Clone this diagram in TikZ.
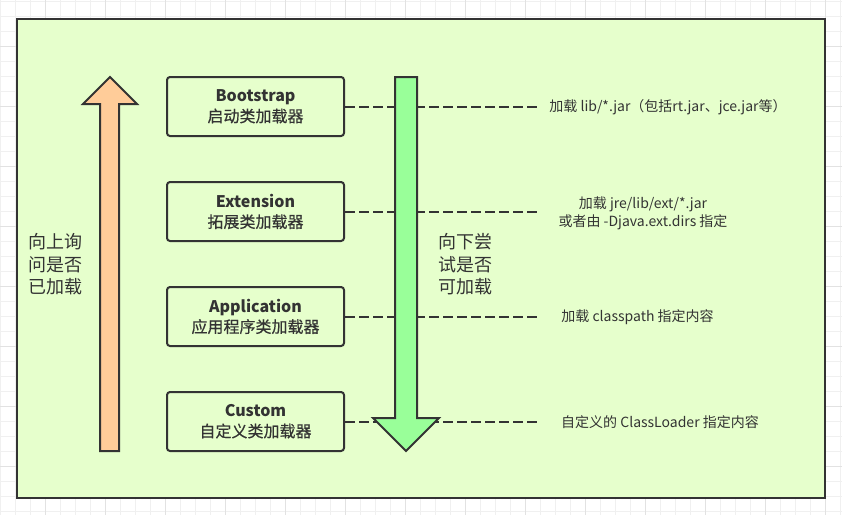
\documentclass[tikz,border=0pt]{standalone}
\usepackage{fontspec}
\setmainfont{Noto Sans CJK SC}
\newfontfamily\cjkmed[BoldFont={Noto Sans CJK SC}, BoldFeatures={FakeBold=0.6}]{Noto Sans CJK SC}
\definecolor{bggreen}{HTML}{E6FFCC}
\definecolor{ink}{HTML}{333333}
\definecolor{gridminor}{HTML}{F0F0F0}
\definecolor{gridmajor}{HTML}{E2E2E2}
\definecolor{upfill}{HTML}{FFCC99}
\definecolor{downfill}{HTML}{99FF99}
\tikzset{
  loader/.style={draw=ink, line width=2pt, fill=bggreen, rounded corners=3pt,
    minimum width=177pt, minimum height=59pt, inner sep=0pt, align=center,
    text=ink, font=\fontsize{16}{20.5}\selectfont},
  bigarrow/.style={draw=ink, line width=2pt, line join=miter},
  dashlink/.style={draw=ink, line width=2pt, dash pattern=on 10pt off 4pt},
  note/.style={text=ink, align=center, inner sep=0pt, font=\fontsize{14}{18}\selectfont},
  vtext/.style={text=ink, align=left, inner sep=0pt, font=\fontsize{18}{22.5}\selectfont},
}
\begin{document}
\begin{tikzpicture}[x=1pt,y=-1pt]
\useasboundingbox (0,0) rectangle (842,515);
% grid background
\fill[white] (0,0) rectangle (842,515);
\foreach \gx in {0,15,...,840} \draw[gridminor, line width=1pt] (\gx,0) -- (\gx,515);
\foreach \gy in {1.5,16.5,...,515} \draw[gridminor, line width=1pt] (0,\gy) -- (842,\gy);
\foreach \gx in {45,105,...,840} \draw[gridmajor, line width=1pt] (\gx,0) -- (\gx,515);
\foreach \gy in {46.5,106.5,...,515} \draw[gridmajor, line width=1pt] (0,\gy) -- (842,\gy);
% panel
\draw[ink, line width=2pt, fill=bggreen] (17,18.5) rectangle (825,498);
% loader boxes
\node[loader] (boot) at (255.5,106.5) {{\bfseries Bootstrap}\\{\cjkmed\bfseries 启动类加载器}};
\node[loader] (ext)  at (255.5,211.5) {{\bfseries Extension}\\{\cjkmed\bfseries 拓展类加载器}};
\node[loader] (app)  at (255.5,316.5) {{\bfseries Application}\\{\cjkmed\bfseries 应用程序类加载器}};
\node[loader] (cus)  at (255.5,421.5) {{\bfseries Custom}\\{\cjkmed\bfseries 自定义类加载器}};
% dashed link ends
\coordinate (e1) at (537,106.5);
\coordinate (e2) at (537,211.5);
\coordinate (e3) at (537,316.5);
\coordinate (e4) at (537,421.5);
\draw[dashlink] (boot.east) -- (e1);
\draw[dashlink] (ext.east) -- (e2);
\draw[dashlink] (app.east) -- (e3);
\draw[dashlink] (cus.east) -- (e4);
% arrows
\draw[bigarrow, fill=upfill] (100,451) -- (100,104) -- (83,104) -- (110,77) -- (137,104) -- (119,104) -- (119,451) -- cycle;
\draw[bigarrow, fill=downfill] (395,77) -- (417,77) -- (417,418) -- (439,418) -- (406,451) -- (373,418) -- (395,418) -- cycle;
% side texts
\node[vtext] (up) at (55.5,264.5) {向上询\\问是否\\已加载};
\node[vtext] (down) at (465.5,264.5) {向下尝\\试是否\\可加载};
% notes
\node[note] (n1) at (668,107) {加载 lib/*.jar（包括rt.jar、jce.jar等）};
\node[note] (n2) at (643,213) {加载 jre/lib/ext/*.jar\\或者由 -Djava.ext.dirs 指定};
\node[note] (n3) at (637.5,317) {加载 classpath 指定内容};
\node[note] (n4) at (660,422) {自定义的 ClassLoader 指定内容};
\end{tikzpicture}
\end{document}
